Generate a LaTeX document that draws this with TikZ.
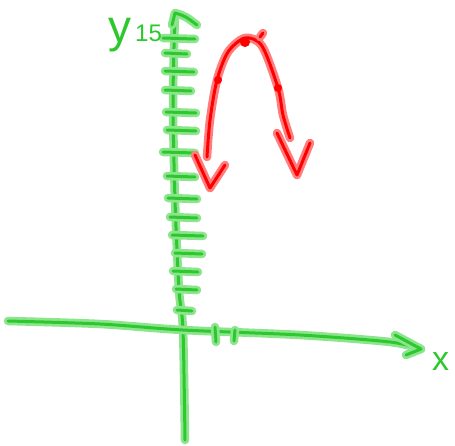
\documentclass[tikz,border=0pt]{standalone}
\usepackage{fontspec}
\setmainfont{Liberation Sans}
\definecolor{gcore}{RGB}{45,200,45}
\definecolor{gglow}{RGB}{140,228,140}
\definecolor{rcore}{RGB}{255,0,0}
\definecolor{rglow}{RGB}{255,125,125}
\tikzset{
  gstroke/.style={draw=gcore, line width=3pt, line cap=round, line join=round,
    preaction={draw=gglow, line width=8.5pt, line cap=round, line join=round}},
  rstroke/.style={draw=rcore, line width=3pt, line cap=round, line join=round,
    preaction={draw=rglow, line width=8.5pt, line cap=round, line join=round}},
  rdot/.style={fill=rcore, draw=rcore, line width=1pt},
  glabel/.style={text=gcore, inner sep=0pt, anchor=base west}
}
\begin{document}
\begin{tikzpicture}[x=1pt,y=-1pt]
\useasboundingbox (0,0) rectangle (455,445);
% y axis
\draw[gstroke] plot[smooth] coordinates {(175,14) (173,100) (175,200) (179,290) (183,330) (185,440)};
\draw[gstroke] (172,25) -- (175,13) .. controls (185,16) .. (197,25);
% y ticks
\foreach \yy/\xl/\xr in {38/163/195, 53/165/187, 71/165/194, 90/165/191, 112/166/196,
  130/167/196, 152/163/195, 176/167/195, 198/168/197, 217/170/197, 235/172/203,
  253/175/202, 271/173/198, 289/176/197, 310/177/192}
  \draw[gstroke] (\xl,\yy) -- (\xr,\yy+1);
% x axis
\draw[gstroke] plot[smooth] coordinates {(8,321) (100,324) (183,330) (300,335) (390,342) (421,349)};
\draw[gstroke] (395,335) -- (421,349) -- (406,355);
\draw[gstroke] (215,327) -- (216,342);
\draw[gstroke] (235,330) -- (234,341);
% labels
\node[glabel, font=\fontsize{46}{46}\selectfont] (ylab) at (108,42) {y};
\node[glabel, font=\fontsize{24}{24}\selectfont] (ynum) at (135,41) {15};
\node[glabel, font=\fontsize{34}{34}\selectfont] (xlab) at (432,370) {x};
% red curve
\draw[rstroke] plot[smooth] coordinates {(207,157) (210,120) (217,80) (228,52) (245,38) (262,46) (278,88) (283,115) (290,138)};
\draw[rstroke] (195,155) -- (210,188) -- (225,165);
\draw[rstroke] (277,133) -- (297,175) -- (310,143);
\draw[rstroke] (260,37) -- (263,33);
\filldraw[rdot] (218,80) circle (3.5);
\filldraw[rdot] (245,42) circle (4.5);
\filldraw[rdot] (278,88) circle (3.5);
\end{tikzpicture}
\end{document}
